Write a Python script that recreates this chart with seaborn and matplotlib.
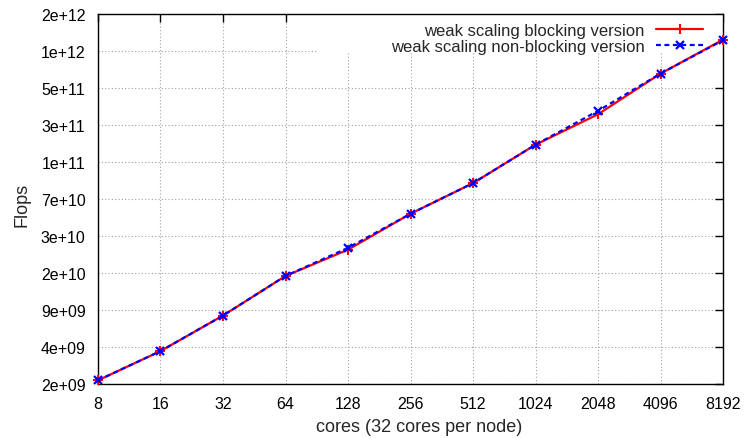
import numpy as np
import pandas as pd
import seaborn as sns
import matplotlib
matplotlib.use("Agg")
import matplotlib.pyplot as plt
from matplotlib.patches import Rectangle

# ---- data ----
cores = [8, 16, 32, 64, 128, 256, 512, 1024, 2048, 4096, 8192]
blocking = [2.30e9, 3.98e9, 7.74e9, 1.625e10, 2.66e10, 5.21e10, 9.25e10,
            1.90e11, 3.36e11, 7.20e11, 1.36e12]
nonblocking = [2.30e9, 3.98e9, 7.74e9, 1.625e10, 2.75e10, 5.21e10, 9.25e10,
               1.90e11, 3.58e11, 7.20e11, 1.344e12]
ytick_vals = [2**31, 2**32, 2**33, 2**34, 2**35, 2**36, 2**37, 2**38, 2**39, 2**40, 2**41]
ytick_labels = ["2e+09", "4e+09", "9e+09", "2e+10", "3e+10", "7e+10",
                "1e+11", "3e+11", "5e+11", "1e+12", "2e+12"]
xtick_labels = [str(c) for c in cores]
label_block = "weak scaling blocking version"
label_nonblock = "weak scaling non-blocking version"

sns.set_style("white")
plt.rcParams['font.family'] = ['Liberation Sans', 'DejaVu Sans']
plt.rcParams['font.size'] = 11.5

fig = plt.figure(figsize=(7.47, 4.39), dpi=100)
ax = fig.add_axes([98/747, 1-385/439, (723-98)/747, (385-15)/439])

df = pd.DataFrame({
    "cores": cores + cores,
    "flops": blocking + nonblocking,
    "version": [label_block] * len(cores) + [label_nonblock] * len(cores),
})

sns.lineplot(data=df, x="cores", y="flops", hue="version", style="version",
             palette={label_block: "#ff0000", label_nonblock: "#0000ff"},
             markers={label_block: "+", label_nonblock: "x"},
             dashes={label_block: "", label_nonblock: (2.2, 1.6)},
             ax=ax, lw=1.6, legend=False)

styles = [
    dict(color="#ff0000", marker="+", ms=7, mew=1.5, ls="-", zorder=3),
    dict(color="#0000ff", marker="x", ms=6, mew=1.6, ls=(0, (2.2, 1.6)), zorder=4),
]
for line, st, lab in zip(ax.lines, styles, [label_block, label_nonblock]):
    line.set_color(st["color"])
    line.set_marker(st["marker"])
    line.set_markersize(st["ms"])
    line.set_markeredgewidth(st["mew"])
    line.set_markeredgecolor(st["color"])
    line.set_markerfacecolor(st["color"])
    line.set_linestyle(st["ls"])
    line.set_linewidth(1.6)
    line.set_zorder(st["zorder"])
    line.set_clip_on(False)
    line.set_label(lab)

ax.set_xscale("log", base=2)
ax.set_yscale("log", base=2)
ax.set_xlim(cores[0], cores[-1])
ax.set_ylim(ytick_vals[0], ytick_vals[-1])
ax.set_xticks(cores)
ax.set_xticklabels(xtick_labels)
ax.set_yticks(ytick_vals)
ax.set_yticklabels(ytick_labels)
ax.minorticks_off()

ax.set_axisbelow(True)
ax.grid(True, which="major", color="#a0a0a0", linestyle=(0, (1, 2)), lw=0.8)
for s in ax.spines.values():
    s.set_visible(True)
    s.set_color("black")
    s.set_linewidth(1.0)
ax.tick_params(axis="both", which="major", direction="in", length=6, width=1,
               top=True, right=True, labelsize=11.5, colors="black")
ax.tick_params(axis="y", pad=9)
ax.tick_params(axis="x", pad=9)

# opaque key background (covers grid only)
ax.add_patch(Rectangle((0.35, 0.895), 0.65, 0.105, transform=ax.transAxes,
                       facecolor="white", edgecolor="none", zorder=1))

ax.set_xlabel("cores (32 cores per node)", fontsize=13)
ax.xaxis.set_label_coords((419.5 - 98) / 625, -(419 - 385) / 370)
ax.set_ylabel("Flops", fontsize=13)
ax.yaxis.set_label_coords(-(98 - 31) / 625, (385 - 204.5) / 370)

handles = ax.lines[:2]
leg = ax.legend(handles=handles, labels=[label_block, label_nonblock],
                loc="upper right", bbox_to_anchor=(0.968, 0.977), frameon=False,
                markerfirst=False, borderpad=0, handlelength=2.8, handletextpad=0.7,
                labelspacing=0.1, fontsize=12, borderaxespad=0)

fig.savefig("out.png", dpi=100)
